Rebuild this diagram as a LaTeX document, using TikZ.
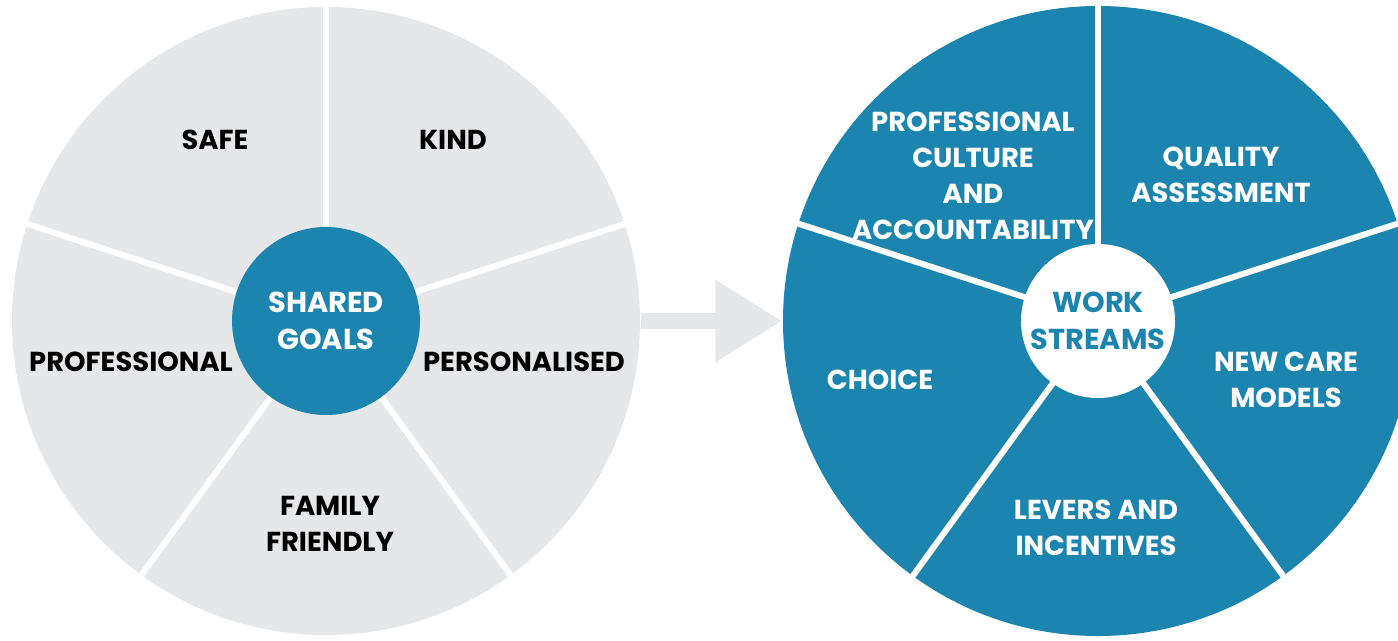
\documentclass[tikz,border=0pt]{standalone}
\usepackage{fontspec}
\setmainfont{Poppins}
\usetikzlibrary{arrows.meta}
\definecolor{wheelblue}{RGB}{28,133,175}
\definecolor{wheelgray}{RGB}{230,231,232}
\tikzset{
  wheel/.style={circle,inner sep=0pt,minimum size=6.28cm},
  spoke/.style={white,line width=0.06cm},
  hub/.style={circle,inner sep=0pt,align=center,font=\bfseries\fontsize{8.2}{10.4}\selectfont},
  lbl/.style={align=center,font=\bfseries\fontsize{7.8}{10.2}\selectfont}
}
\begin{document}
\begin{tikzpicture}
  \useasboundingbox (0,0) rectangle (13.98,6.4);
  \clip (0,0) rectangle (13.98,6.4);
  \node[wheel,fill=wheelgray] (goals) at (3.26,3.19) {};
  \node[wheel,fill=wheelblue,minimum size=6.3cm] (streams) at (10.98,3.19) {};
  \foreach \a in {18,90,...,306} {
    \draw[spoke] (goals.center) -- (goals.\a);
    \draw[spoke] (streams.center) -- (streams.\a);
  }
  \draw[wheelgray,line width=0.16cm,-{Triangle[width=0.78cm,length=0.67cm]}] (goals.east) -- (streams.west);
  \node[hub,fill=wheelblue,text=white,minimum size=1.88cm] (goalshub) at (goals) {SHARED\\GOALS};
  \node[hub,fill=white,text=wheelblue,minimum size=1.54cm] (streamshub) at (streams) {WORK\\STREAMS};
  % left wheel
  \node[lbl] (safe) at (2.15,5.00) {SAFE};
  \node[lbl] (kind) at (4.53,5.00) {KIND};
  \node[lbl] (prof) at (1.31,2.78) {PROFESSIONAL};
  \node[lbl] (pers) at (5.24,2.78) {PERSONALISED};
  \node[lbl] (family) at (3.30,1.16) {FAMILY\\FRIENDLY};
  % right wheel
  \begin{scope}[every node/.append style={text=white}]
    \node[lbl] (culture) at (9.73,4.64) {PROFESSIONAL\\CULTURE\\AND\\ACCOUNTABILITY};
    \node[lbl] (quality) at (12.21,4.65) {QUALITY\\ASSESSMENT};
    \node[lbl] (choice) at (8.80,2.60) {CHOICE};
    \node[lbl] (care) at (12.86,2.60) {NEW CARE\\MODELS};
    \node[lbl] (levers) at (10.96,1.12) {LEVERS AND\\INCENTIVES};
  \end{scope}
\end{tikzpicture}
\end{document}
